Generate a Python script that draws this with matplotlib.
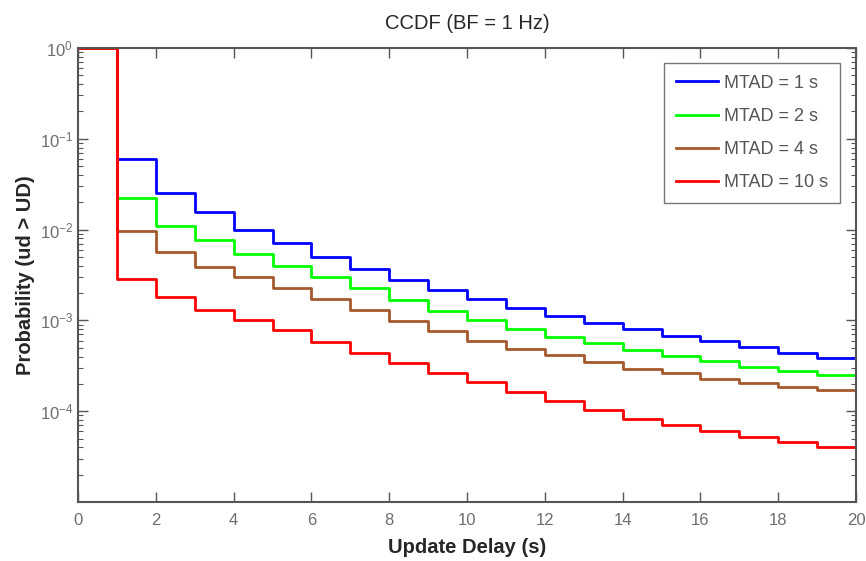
import matplotlib
matplotlib.use("Agg")
import matplotlib.pyplot as plt
import numpy as np

plt.rcParams["font.family"] = ["Liberation Sans", "DejaVu Sans"]
plt.rcParams["mathtext.default"] = "regular"

delay = list(range(0, 21))

ccdf_1s = [1.0, 0.0593, 0.0256, 0.0155, 0.0100, 0.0072, 0.00494, 0.00367, 0.00280, 0.00217,
           0.00171, 0.00136, 0.00112, 0.000946, 0.000813, 0.000675, 0.000593, 0.000513,
           0.000441, 0.000389, 0.000355]
ccdf_2s = [1.0, 0.0222, 0.01107, 0.0076, 0.00537, 0.00400, 0.00297, 0.00225, 0.00169, 0.00127,
           0.00101, 0.000813, 0.000661, 0.000562, 0.000472, 0.000407, 0.000355, 0.000309,
           0.000277, 0.000248, 0.000225]
ccdf_4s = [1.0, 0.00959, 0.00561, 0.00391, 0.00297, 0.00227, 0.00174, 0.00131, 0.000987, 0.000766,
           0.000593, 0.000489, 0.000412, 0.000348, 0.000293, 0.000261, 0.000228, 0.000202,
           0.000186, 0.000171, 0.000158]
ccdf_10s = [1.0, 0.00285, 0.00183, 0.00131, 0.00100, 0.000777, 0.000585, 0.000441, 0.000336, 0.000261,
            0.000209, 0.000163, 0.000129, 0.000102, 8.2e-5, 7.1e-5, 6.0e-5, 5.2e-5,
            4.6e-5, 4.03e-5, 3.7e-5]

series = [
    ("MTAD = 1 s", ccdf_1s, "#0000ff"),
    ("MTAD = 2 s", ccdf_2s, "#00ff00"),
    ("MTAD = 4 s", ccdf_4s, "#a5582d"),
    ("MTAD = 10 s", ccdf_10s, "#ff0000"),
]

fig = plt.figure(figsize=(8.66, 5.61), dpi=100)
ax = fig.add_axes([0.0901, 0.1052, 0.8984, 0.8092])

for label, vals, color in series:
    ax.step(delay, vals, where="post", color=color, linewidth=2, label=label)

ax.set_yscale("log")
ax.set_xlim(0, 20)
ax.set_ylim(1e-5, 1)
ax.set_xticks(np.arange(0, 21, 2))
ax.set_yticks([1e-4, 1e-3, 1e-2, 1e-1, 1])

tick_gray = "#6e6e6e"
ax.tick_params(which="both", direction="in", top=True, right=True, colors="#555555",
               labelcolor=tick_gray, labelsize=12)
ax.tick_params(which="major", length=7, width=1)
ax.tick_params(which="minor", length=3.5, width=0.8)
ax.tick_params(axis="x", pad=8)
for sp in ax.spines.values():
    sp.set_color("#555555")
    sp.set_linewidth(1.5)
    sp.set_zorder(5)

ax.set_title("CCDF (BF = 1 Hz)", fontsize=14.5, color="#262626", pad=14)
ax.set_xlabel("Update Delay (s)", fontsize=14.5, fontweight="bold", color="#262626", labelpad=7)
ax.set_ylabel("Probability (ud > UD)", fontsize=14.5, fontweight="bold", color="#262626", labelpad=3)

leg = ax.legend(loc="upper right", bbox_to_anchor=(0.979, 0.967), borderaxespad=0, fontsize=13,
                frameon=True, fancybox=False, edgecolor="#555555", handlelength=2.3,
                handletextpad=0.35, labelspacing=0.9, borderpad=0.65, labelcolor="#555555")
leg.get_frame().set_linewidth(1.0)

fig.savefig("out.png", dpi=100)
